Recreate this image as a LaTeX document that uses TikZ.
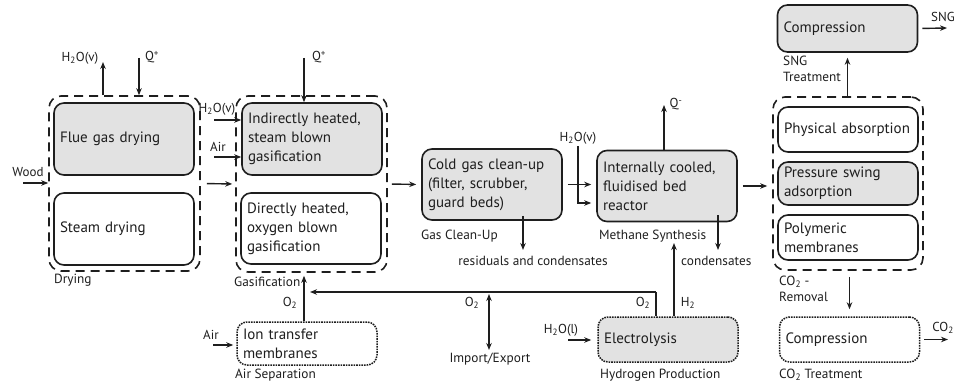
\documentclass[tikz,border=0pt]{standalone}
\usepackage{fontspec}
\setmainfont{PT Sans}
\usetikzlibrary{arrows.meta,positioning}
\definecolor{linec}{HTML}{1E1E1E}
\definecolor{boxfill}{HTML}{E2E2E2}
\begin{document}
\begin{tikzpicture}[x=1pt,y=-1pt,
  every node/.style={text=linec},
  box/.style={draw=linec, line width=1.6pt, rounded corners=10pt, align=left,
    text width=128pt, inner xsep=6pt, inner ysep=0pt, minimum height=72pt,
    font=\fontsize{15}{19}\selectfont},
  gbox/.style={box, fill=boxfill},
  wbox/.style={box, fill=white},
  dbox/.style={box, densely dotted, line width=1.5pt},
  grp/.style={draw=linec, line width=1.6pt, dash pattern=on 9pt off 6pt, rounded corners=12pt,
    minimum width=151pt, minimum height=175pt, inner sep=0pt},
  lab/.style={font=\fontsize{13.3}{16}\selectfont, inner sep=0pt, align=left},
  slab/.style={font=\fontsize{13}{15}\selectfont, inner sep=0pt},
  arr/.style={draw=linec, line width=1.4pt, -{Stealth[length=7pt,width=5.5pt]}},
  dbl/.style={draw=linec, line width=1.4pt, {Stealth[length=7pt,width=5.5pt]}-{Stealth[length=7pt,width=5.5pt]}},
  ln/.style={draw=linec, line width=1.4pt}
]
\useasboundingbox (0,0) rectangle (955,385);

% ---------- Drying ----------
\node[grp] (dry) at (124.5,183.5) {};
\node[gbox] (fgd) at (124,139) {Flue gas drying};
\node[wbox] (sd) at (124,229) {Steam drying};
\node[lab, anchor=west] (drylab) at (54,280) {Drying};

% ---------- Gasification ----------
\node[grp, minimum height=176pt] (gas) at (311.5,184) {};
\node[gbox] (ind) at (312,139) {Indirectly heated,\\steam blown\\gasification};
\node[wbox, minimum height=71pt] (dir) at (311,228.5) {Directly heated,\\oxygen blown\\gasification};
\node[lab, anchor=west] (gaslab) at (234,282) {Gasification};

% ---------- Gas clean-up ----------
\node[gbox, minimum height=71pt] (clean) at (492,184.5) {Cold gas clean-up\\(filter, scrubber,\\guard beds)};
\node[lab, anchor=west] (cleanlab) at (421,236) {Gas Clean-Up};
\node[lab] (resid) at (533,261) {residuals and condensates};

% ---------- Methane synthesis ----------
\node[gbox, minimum height=71pt] (reac) at (667,186) {Internally cooled,\\fluidised bed\\reactor};
\node[lab, anchor=west] (methlab) at (599,236) {Methane Synthesis};
\node[lab, anchor=west] (cond) at (681,261) {condensates};

% ---------- CO2 removal ----------
\node[grp, minimum width=150pt, minimum height=173pt] (co2r) at (848,183.5) {};
\node[wbox, minimum height=45pt] (phys) at (848,129.5) {Physical absorption};
\node[gbox, minimum height=43pt] (psa) at (848,183.5) {Pressure swing\\adsorption};
\node[wbox, minimum height=45pt] (poly) at (848,237.5) {Polymeric\\membranes};
\node[lab, anchor=north west] (co2rlab) at (779,276) {CO\textsubscript{2} -\\Removal};

% ---------- SNG treatment ----------
\node[gbox, minimum height=47pt] (sngc) at (847.5,28.5) {Compression};
\node[lab, anchor=north west] (snglab) at (783,56) {SNG\\Treatment};

% ---------- CO2 treatment ----------
\node[dbox, fill=white, minimum height=45pt] (co2c) at (849.5,339.5) {Compression};
\node[lab, anchor=west] (co2tlab) at (779,375) {CO\textsubscript{2} Treatment};

% ---------- Hydrogen production ----------
\node[dbox, fill=boxfill, minimum height=45pt] (elec) at (668,339.5) {Electrolysis};
\node[lab, anchor=west] (h2lab) at (600,375) {Hydrogen Production};

% ---------- Air separation ----------
\node[dbox, fill=white, minimum height=43pt] (itm) at (307,343.5) {Ion transfer\\membranes};
\node[lab, anchor=west] (airseplab) at (235,375) {Air Separation};

% ---------- Free ends ----------
\coordinate (woodin) at (23,183);
\coordinate (dryh2o) at (103,62);
\coordinate (dryq) at (139,58);
\coordinate (gasq) at (304,58);
\coordinate (gash2o) at (214,120);
\coordinate (gasair) at (214,157);
\coordinate (reach2o) at (578,146);
\coordinate (reacq) at (664,105);
\coordinate (resend) at (523,250);
\coordinate (condend) at (718,250);
\coordinate (sngout) at (947,28);
\coordinate (co2out) at (948,339.5);
\coordinate (h2olin) at (568,340);
\coordinate (airin) at (213,345);
\coordinate (o2corner) at (656,292);
\coordinate (o2join) at (304,292);
\coordinate (ieTop) at (489,294);
\coordinate (ieBot) at (489,350);
\coordinate (h2end) at (674,243);

% ---------- Connectors ----------
\draw[arr] (woodin) -- (dry.west |- woodin);
\node[slab] at (28,172) {Wood};

\draw[arr] (dry.north -| dryh2o) -- (dryh2o);
\node[slab] at (80,58) {H\textsubscript{2}O(v)};
\draw[arr] (dryq) -- (dry.north -| dryq);
\node[slab] at (152,57) {Q\textsuperscript{+}};

\draw[arr] (gasq) -- (ind.north -| gasq);
\node[slab] at (319,57) {Q\textsuperscript{+}};
\draw[arr] (gash2o) -- (ind.west |- gash2o);
\node[slab] at (217,109) {H\textsubscript{2}O(v)};
\draw[arr] (gasair) -- (ind.west |- gasair);
\node[slab] at (218,147) {Air};

\draw[arr, shorten <=6pt, shorten >=3pt] (dry.east) -- (gas.west);
\draw[arr, shorten <=4pt, shorten >=5pt] (gas.east) -- (clean.west);
\draw[arr, shorten <=5pt, shorten >=5pt] (clean.east) -- (reac.west |- clean.east);
\draw[arr] (reach2o) |- ([xshift=-5pt,yshift=-17pt]reac.west);
\node[slab] at (578,138) {H\textsubscript{2}O(v)};
\draw[arr] (reac.north -| reacq) -- (reacq);
\node[slab] at (676,104) {Q\textsuperscript{-}};

\draw[arr] ([yshift=5pt]clean.south -| resend) -- (resend);
\draw[arr] ([yshift=7pt]reac.south -| condend) -- (condend);

\draw[arr, shorten <=5pt, shorten >=5pt] (reac.east) -- (co2r.west |- reac.east);
\draw[arr, shorten <=6pt, shorten >=7pt] (co2r.south -| co2c.north) -- (co2c.north);
\draw[arr, shorten >=5pt] (co2r.north -| sngc.south) -- (sngc.south);
\draw[arr, shorten <=4pt] (sngc.east) -- (sngout);
\node[slab] at (943,17) {SNG};
\draw[arr, shorten <=4pt] (co2c.east) -- (co2out);
\node[slab] at (943,328) {CO\textsubscript{2}};

\draw[arr] (h2olin) -- ([xshift=-6pt]elec.west |- h2olin);
\node[slab] at (561,330) {H\textsubscript{2}O(l)};

\draw[ln] (elec.north -| o2corner) -- (o2corner);
\draw[arr] (o2corner) -- ([xshift=6pt]o2join);
\node[slab] at (643,303) {O\textsubscript{2}};
\draw[arr] (elec.north -| h2end) -- (h2end);
\node[slab] at (688,303) {H\textsubscript{2}};

\draw[dbl] (ieTop) -- (ieBot);
\node[slab] at (472,303) {O\textsubscript{2}};
\node[lab] at (490,359) {Import/Export};

\draw[arr, shorten >=3pt] (itm.north -| o2join) -- (gas.south -| o2join);
\node[slab] at (290,303) {O\textsubscript{2}};
\draw[arr, shorten >=3pt] (airin) -- (itm.west |- airin);
\node[slab] at (211,335) {Air};
\end{tikzpicture}
\end{document}
